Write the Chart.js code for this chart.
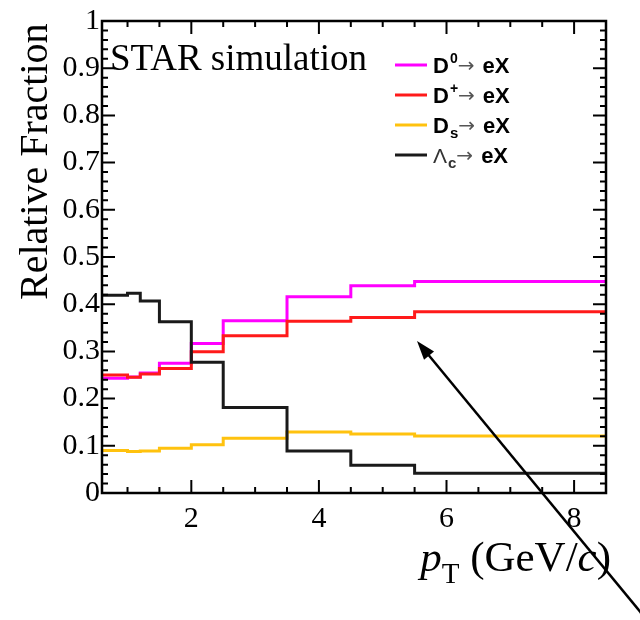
<!DOCTYPE html>
<html>
<head>
<meta charset="utf-8">
<script src="https://cdn.jsdelivr.net/npm/chart.js@4.4.1/dist/chart.umd.min.js"></script>
<style>
    html, body { margin: 0; padding: 0; background: #fff; }
</style>
</head>
<body>
<canvas id="chart" width="640" height="620"></canvas>
<script>
// pT bin edges (GeV/c) and relative fraction per bin
const binEdges = [0.6, 1.0, 1.2, 1.5, 2.0, 2.5, 3.5, 4.5, 5.5, 8.5];
const d0Frac = [0.243, 0.246, 0.254, 0.275, 0.317, 0.365, 0.416, 0.439, 0.448];
const dPlusFrac = [0.250, 0.245, 0.252, 0.264, 0.299, 0.333, 0.364, 0.372, 0.384];
const dsFrac = [0.090, 0.088, 0.089, 0.095, 0.102, 0.116, 0.129, 0.125, 0.121];
const lcFrac = [0.419, 0.423, 0.407, 0.363, 0.277, 0.181, 0.089, 0.059, 0.042];

const xTicks = [2, 4, 6, 8];
const yTicks = [0, 0.1, 0.2, 0.3, 0.4, 0.5, 0.6, 0.7, 0.8, 0.9, 1];

// legend: [symbol, superscript, subscript]
const legendParts = [['D', '0', ''], ['D', '+', ''], ['D', '', 's'], ['\u039B', '', 'c']];
const seriesColors = ['#ff00ff', '#ff1a1a', '#ffc20e', '#1a1a1a'];

const serif = '"Liberation Serif", "DejaVu Serif", serif';
const sans = '"Liberation Sans", Arial, sans-serif';

// point at each left edge with the bin value; the closing edge repeats the last value
const toSteps = (vals) => binEdges.map((x, i) => ({ x, y: vals[Math.min(i, vals.length - 1)] }));

const series = [d0Frac, dPlusFrac, dsFrac, lcFrac];

const frame = {
    id: 'frame',
    afterDatasetsDraw(chart) {
        const { ctx, chartArea: a, scales: { x, y } } = chart;
        ctx.save();
        ctx.strokeStyle = '#000';
        ctx.lineWidth = 2;
        ctx.beginPath();
        for (let i = 2; i <= 17; i++) {
            const px = x.getPixelForValue(i / 2);
            const len = i % 4 === 0 ? 13 : 6;
            ctx.moveTo(px, a.bottom);
            ctx.lineTo(px, a.bottom - len);
            ctx.moveTo(px, a.top);
            ctx.lineTo(px, a.top + len);
        }
        for (let i = 0; i <= 50; i++) {
            const py = y.getPixelForValue(i * 0.02);
            const len = i % 5 === 0 ? 13 : 6;
            ctx.moveTo(a.left, py);
            ctx.lineTo(a.left + len, py);
            ctx.moveTo(a.right, py);
            ctx.lineTo(a.right - len, py);
        }
        ctx.stroke();
        ctx.lineWidth = 2.5;
        ctx.strokeRect(a.left, a.top, a.right - a.left, a.bottom - a.top);
        ctx.restore();
    },
    afterDraw(chart) {
        const { ctx } = chart;
        ctx.save();
        ctx.fillStyle = '#000';

        // y title
        ctx.save();
        ctx.translate(47, 300);
        ctx.rotate(-Math.PI / 2);
        ctx.font = `40px ${serif}`;
        ctx.textBaseline = 'alphabetic';
        ctx.fillText('Relative Fraction', 0, 0);
        ctx.restore();

        // x title: p_T (GeV/c)
        const parts = [
            { t: 'p', f: `italic 43px ${serif}`, dy: 0 },
            { t: 'T', f: `29px ${serif}`, dy: 12 },
            { t: ' (GeV/', f: `43px ${serif}`, dy: 0 },
            { t: 'c', f: `italic 43px ${serif}`, dy: 0 },
            { t: ')', f: `43px ${serif}`, dy: 0 },
        ];
        let total = 0;
        parts.forEach(p => { ctx.font = p.f; p.w = ctx.measureText(p.t).width; total += p.w; });
        let xp = 611 - total;
        parts.forEach(p => { ctx.font = p.f; ctx.fillText(p.t, xp, 571 + p.dy); xp += p.w; });

        // STAR label
        ctx.font = `37px ${serif}`;
        ctx.fillText('STAR simulation', 110, 70);

        // legend
        legendParts.forEach((lp, i) => {
            const ly = 65 + i * 30;
            ctx.strokeStyle = seriesColors[i];
            ctx.lineWidth = 3;
            ctx.beginPath();
            ctx.moveTo(395, ly);
            ctx.lineTo(427, ly);
            ctx.stroke();
            let lx = 433;
            const base = ly + 8;
            const isLambda = lp[0] === '\u039B';
            ctx.fillStyle = isLambda ? '#333' : '#000';
            ctx.font = isLambda ? `21px ${sans}` : `bold 22px ${sans}`;
            ctx.fillText(lp[0], lx, base);
            lx += ctx.measureText(lp[0]).width;
            let extra = 0;
            if (lp[1]) {
                ctx.font = `bold 14px ${sans}`;
                ctx.fillText(lp[1], lx + 1, base - 10);
                extra = ctx.measureText(lp[1]).width + 1;
            }
            if (lp[2]) {
                ctx.font = `bold 15px ${sans}`;
                ctx.fillText(lp[2], lx + 1, base + 5);
                extra = Math.max(extra, ctx.measureText(lp[2]).width + 1);
            }
            lx += extra;
            ctx.fillStyle = '#555';
            ctx.font = `20px "DejaVu Sans", sans-serif`;
            ctx.fillText('\u2192', lx, base - 1);
            lx += ctx.measureText('\u2192').width + 8;
            ctx.fillStyle = '#000';
            ctx.font = `bold 22px ${sans}`;
            ctx.fillText('eX', lx, base);
        });

        // annotation arrow
        const tip = [417, 341];
        const tail = [642, 614];
        const ang = Math.atan2(tail[1] - tip[1], tail[0] - tip[0]);
        ctx.strokeStyle = '#000';
        ctx.lineWidth = 2.5;
        ctx.beginPath();
        ctx.moveTo(tail[0], tail[1]);
        ctx.lineTo(tip[0] + 12 * Math.cos(ang), tip[1] + 12 * Math.sin(ang));
        ctx.stroke();
        ctx.fillStyle = '#000';
        ctx.beginPath();
        ctx.moveTo(tip[0], tip[1]);
        ctx.lineTo(tip[0] + 20 * Math.cos(ang + 0.33), tip[1] + 20 * Math.sin(ang + 0.33));
        ctx.lineTo(tip[0] + 20 * Math.cos(ang - 0.33), tip[1] + 20 * Math.sin(ang - 0.33));
        ctx.closePath();
        ctx.fill();

        ctx.restore();
    },
};

new Chart(document.getElementById('chart'), {
    type: 'line',
    data: {
        datasets: series.map((vals, i) => ({
            data: toSteps(vals),
            stepped: 'before',
            borderColor: seriesColors[i],
            borderWidth: 3,
            pointRadius: 0,
            fill: false,
            order: 3 - i,
        })),
    },
    options: {
        responsive: false,
        animation: false,
        layout: { padding: { left: 0, right: 34, top: 21, bottom: 0 } },
        scales: {
            x: {
                type: 'linear',
                min: 0.6,
                max: 8.5,
                afterBuildTicks: (scale) => { scale.ticks = xTicks.map(value => ({ value })); },
                afterFit: (scale) => { scale.height = 127; },
                ticks: {
                    color: '#000',
                    font: { family: serif, size: 30 },
                    padding: 8,
                    maxRotation: 0,
                    callback: (v) => String(v),
                },
                grid: { display: false, drawTicks: false },
                border: { display: false },
            },
            y: {
                min: 0,
                max: 1,
                afterBuildTicks: (scale) => { scale.ticks = yTicks.map(value => ({ value })); },
                afterFit: (scale) => { scale.width = 102; },
                ticks: {
                    color: '#000',
                    font: { family: serif, size: 30 },
                    padding: 2,
                    callback: (v) => String(+v.toFixed(1)),
                },
                grid: { display: false, drawTicks: false },
                border: { display: false },
            },
        },
        plugins: {
            legend: { display: false },
            tooltip: { enabled: false },
        },
    },
    plugins: [frame],
});
</script>
</body>
</html>
